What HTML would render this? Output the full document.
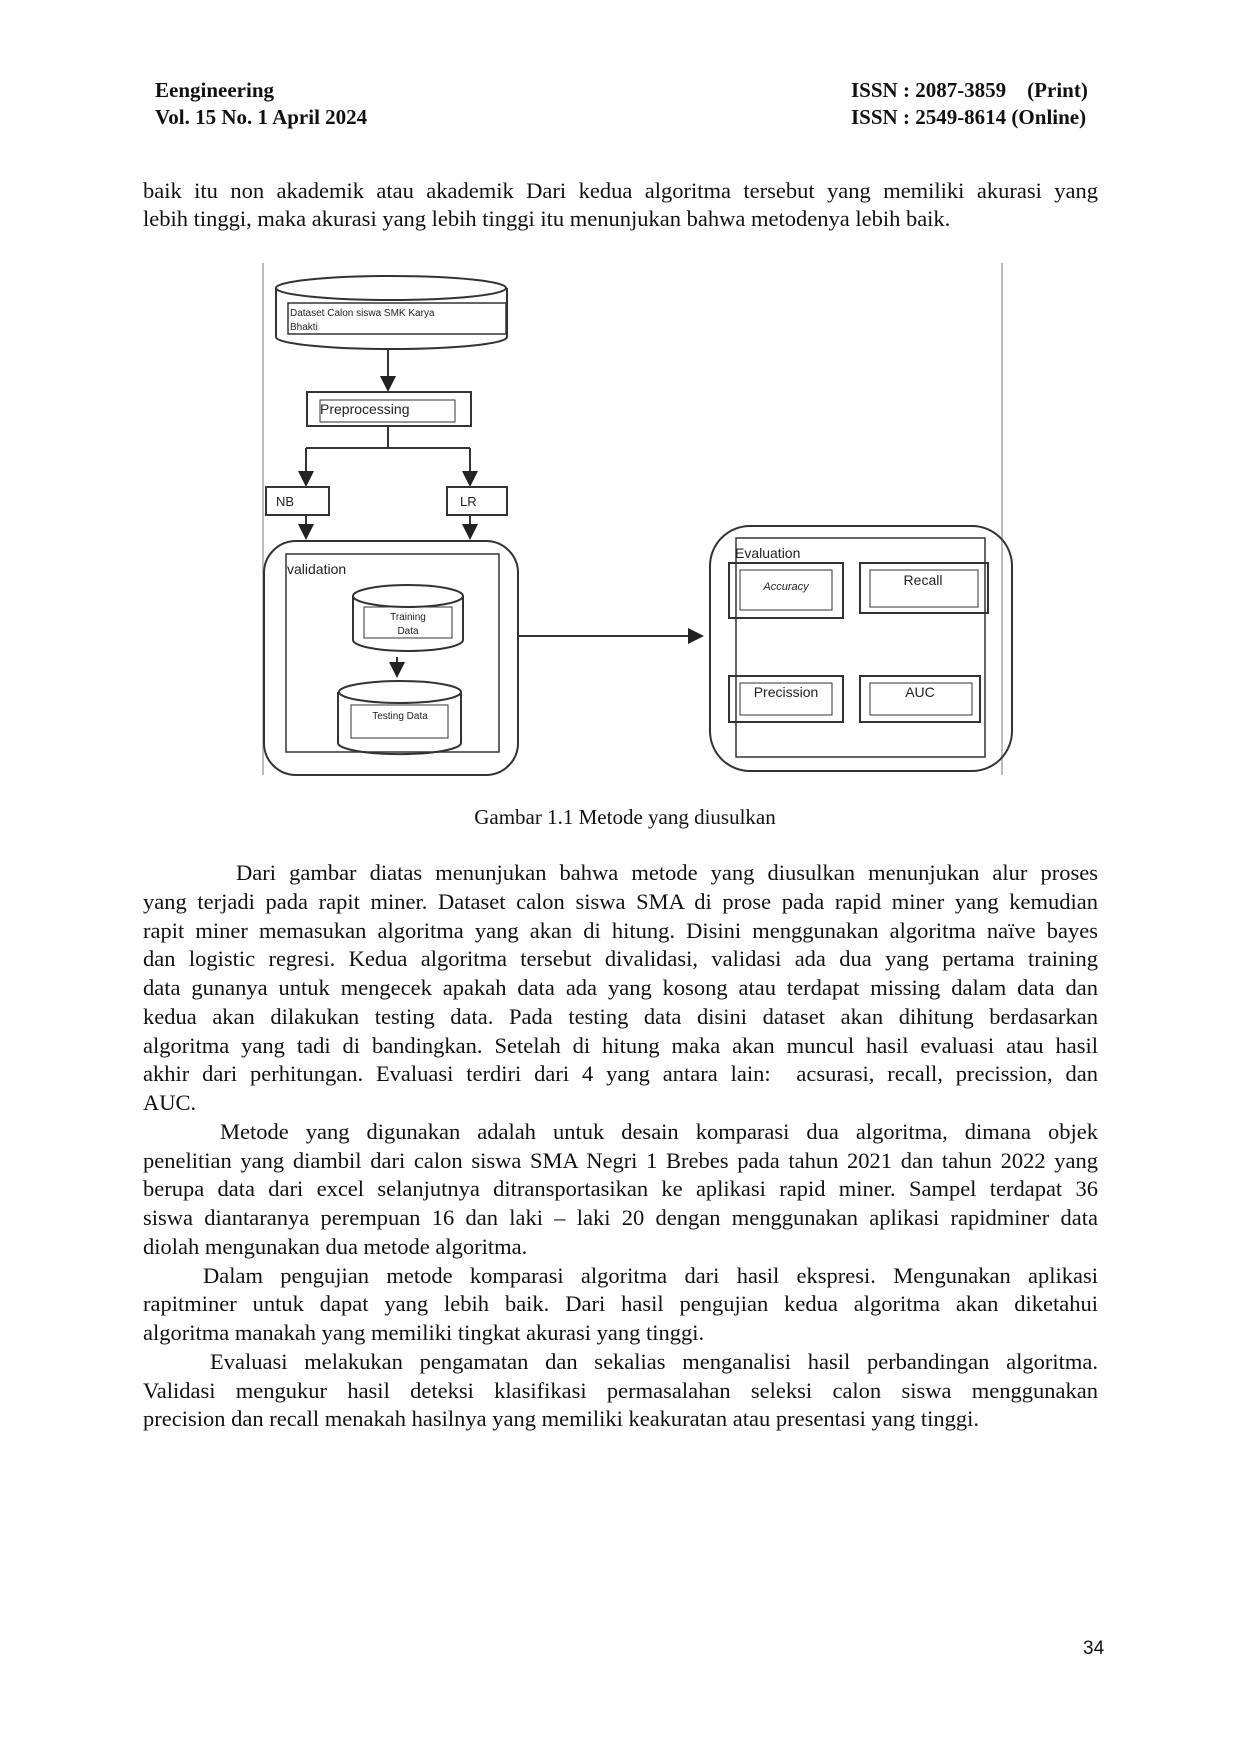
<!DOCTYPE html>
<html><head><meta charset="utf-8"><style>
html,body{margin:0;padding:0;background:#fff;}
body{width:1240px;height:1754px;position:relative;overflow:hidden;font-family:"Liberation Serif",serif;color:#111;}
.h{position:absolute;font-weight:bold;font-size:21px;line-height:26px;}
.l{position:absolute;left:143px;width:955px;font-size:22.5px;line-height:29px;white-space:nowrap;text-align:justify;text-align-last:justify;}
.l.e{text-align-last:left;}
.d{font-family:"Liberation Sans",sans-serif;}
</style></head><body>
<div class="h" style="left:155px;top:77px;">Eengineering</div>
<div class="h" style="left:155px;top:104px;">Vol. 15 No. 1 April 2024</div>
<div class="h" style="left:851px;top:77px;">ISSN : 2087-3859 &nbsp;&nbsp; (Print)</div>
<div class="h" style="left:851px;top:104px;">ISSN : 2549-8614 (Online)</div>

<div class="l" style="top:176px;">baik itu non akademik atau akademik Dari kedua algoritma tersebut yang memiliki akurasi yang</div>
<div class="l e" style="top:204px;">lebih tinggi, maka akurasi yang lebih tinggi itu menunjukan bahwa metodenya lebih baik.</div>

<svg style="position:absolute;left:0;top:0" width="1240" height="800" font-family="Liberation Sans, sans-serif">
<defs><marker id="a" markerWidth="8" markerHeight="8" refX="7" refY="4" orient="auto"><path d="M0,0L8,4L0,8z" fill="#222"/></marker></defs>
<g stroke="#bbb" stroke-width="2"><line x1="263" y1="263" x2="263" y2="775"/><line x1="1002" y1="263" x2="1002" y2="775"/></g>
<g fill="none" stroke="#333" stroke-width="2">
<path d="M276,288 L276,337 A115,12 0 0 0 507,337 L507,288"/>
<ellipse cx="391" cy="288" rx="115" ry="12"/>
<rect x="288" y="303" width="218" height="31" stroke-width="1.5"/>
<line x1="388" y1="349" x2="388" y2="390" marker-end="url(#a)"/>
<rect x="307" y="392" width="164" height="34"/>
<rect x="320" y="400" width="135" height="22" stroke-width="1"/>
<path d="M388,426 V448 M306,448 H470" />
<path d="M306,448 V485" marker-end="url(#a)"/><path d="M470,448 V485" marker-end="url(#a)"/>
<rect x="266" y="487" width="63" height="28"/>
<rect x="447" y="487" width="60" height="28"/>
<path d="M306,515 V538" marker-end="url(#a)"/><path d="M470,515 V538" marker-end="url(#a)"/>
<rect x="264" y="541" width="254" height="234" rx="32"/>
<rect x="286" y="554" width="213" height="198" stroke-width="1.5"/>
<path d="M353,596 L353,640 A55,11 0 0 0 463,640 L463,596"/>
<ellipse cx="408" cy="596" rx="55" ry="11"/>
<rect x="364" y="607" width="88" height="31" stroke-width="1"/>
<path d="M397,657 V676" marker-end="url(#a)"/>
<path d="M338,692 L338,743 A61,11 0 0 0 461,743 L461,692"/>
<ellipse cx="400" cy="692" rx="61" ry="11"/>
<rect x="351" y="705" width="97" height="33" stroke-width="1"/>
<path d="M518,636 H702" marker-end="url(#a)"/>
<rect x="710" y="526" width="302" height="245" rx="40"/>
<rect x="736" y="538" width="249" height="219" stroke-width="1.5"/>
<rect x="729" y="563" width="114" height="55"/>
<rect x="740" y="570" width="92" height="40" stroke-width="1"/>
<rect x="860" y="563" width="128" height="50"/>
<rect x="870" y="570" width="108" height="37" stroke-width="1"/>
<rect x="729" y="676" width="114" height="46"/>
<rect x="740" y="683" width="92" height="32" stroke-width="1"/>
<rect x="860" y="676" width="120" height="46"/>
<rect x="870" y="683" width="102" height="32" stroke-width="1"/>
</g>
<g fill="#222">
<text x="290" y="316" font-size="10">Dataset Calon siswa SMK Karya</text>
<text x="290" y="330" font-size="10">Bhakti</text>
<text x="320" y="414" font-size="14">Preprocessing</text>
<text x="276" y="506" font-size="13">NB</text>
<text x="460" y="506" font-size="13">LR</text>
<text x="287" y="574" font-size="14">validation</text>
<text x="408" y="620" font-size="10" text-anchor="middle">Training</text>
<text x="408" y="634" font-size="10" text-anchor="middle">Data</text>
<text x="400" y="719" font-size="10" text-anchor="middle">Testing  Data</text>
<text x="735" y="558" font-size="14">Evaluation</text>
<text x="786" y="590" font-size="11" font-style="italic" text-anchor="middle">Accuracy</text>
<text x="923" y="585" font-size="14" text-anchor="middle">Recall</text>
<text x="786" y="697" font-size="14" text-anchor="middle">Precission</text>
<text x="920" y="697" font-size="14" text-anchor="middle">AUC</text>
</g>
</svg>

<div style="position:absolute;left:0;width:1250px;top:805px;text-align:center;font-size:21px;">Gambar 1.1 Metode yang diusulkan</div>

<div class="l" style="top:858px;left:236px;width:862px;">Dari gambar diatas menunjukan bahwa metode yang diusulkan menunjukan alur proses</div>
<div class="l" style="top:887px;">yang terjadi pada rapit miner. Dataset calon siswa SMA di prose pada rapid miner yang kemudian</div>
<div class="l" style="top:916px;">rapit miner memasukan algoritma yang akan di hitung. Disini menggunakan algoritma naïve bayes</div>
<div class="l" style="top:944px;">dan logistic regresi. Kedua algoritma tersebut divalidasi, validasi ada dua yang pertama training</div>
<div class="l" style="top:973px;">data gunanya untuk mengecek apakah data ada yang kosong atau terdapat missing dalam data dan</div>
<div class="l" style="top:1002px;">kedua akan dilakukan testing data. Pada testing data disini dataset akan dihitung berdasarkan</div>
<div class="l" style="top:1031px;">algoritma yang tadi di bandingkan. Setelah di hitung maka akan muncul hasil evaluasi atau hasil</div>
<div class="l" style="top:1059px;">akhir dari perhitungan. Evaluasi terdiri dari 4 yang antara lain: &nbsp;acsurasi, recall, precission, dan</div>
<div class="l e" style="top:1088px;">AUC.</div>
<div class="l" style="top:1117px;left:220px;width:878px;">Metode yang digunakan adalah untuk desain komparasi dua algoritma, dimana objek</div>
<div class="l" style="top:1146px;">penelitian yang diambil dari calon siswa SMA Negri 1 Brebes pada tahun 2021 dan tahun 2022 yang</div>
<div class="l" style="top:1174px;">berupa data dari excel selanjutnya ditransportasikan ke aplikasi rapid miner. Sampel terdapat 36</div>
<div class="l" style="top:1203px;">siswa diantaranya perempuan 16 dan laki – laki 20 dengan menggunakan aplikasi rapidminer data</div>
<div class="l e" style="top:1232px;">diolah mengunakan dua metode algoritma.</div>
<div class="l" style="top:1261px;left:203px;width:895px;">Dalam pengujian metode komparasi algoritma dari hasil ekspresi. Mengunakan aplikasi</div>
<div class="l" style="top:1289px;">rapitminer untuk dapat yang lebih baik. Dari hasil pengujian kedua algoritma akan diketahui</div>
<div class="l e" style="top:1318px;">algoritma manakah yang memiliki tingkat akurasi yang tinggi.</div>
<div class="l" style="top:1347px;left:210px;width:888px;">Evaluasi melakukan pengamatan dan sekalias menganalisi hasil perbandingan algoritma.</div>
<div class="l" style="top:1376px;">Validasi mengukur hasil deteksi klasifikasi permasalahan seleksi calon siswa menggunakan</div>
<div class="l e" style="top:1404px;">precision dan recall menakah hasilnya yang memiliki keakuratan atau presentasi yang tinggi.</div>

<div class="d" style="position:absolute;left:1083px;top:1638px;font-size:19px;">34</div>
</body></html>
